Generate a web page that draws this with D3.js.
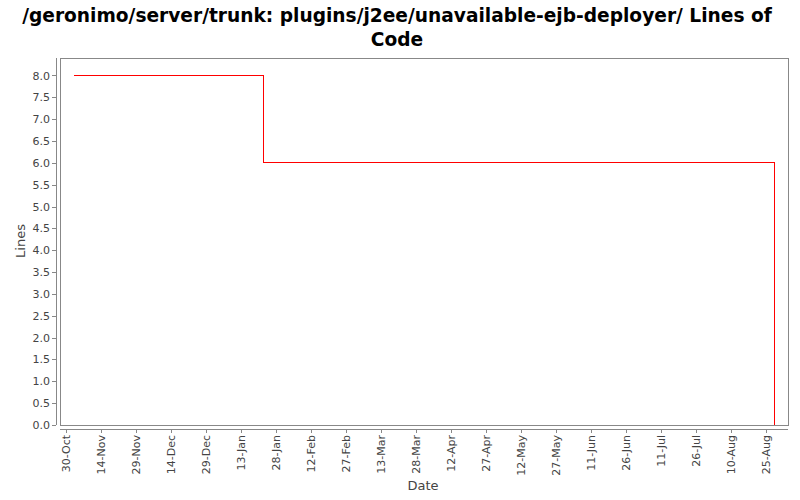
<!DOCTYPE html>
<html>
<head>
<meta charset="utf-8">
<script src="https://cdn.jsdelivr.net/npm/d3@7"></script>
<style>
  html, body { margin: 0; padding: 0; background: #fff; }
  svg { display: block; }
</style>
</head>
<body>
<svg id="chart" width="800" height="500"></svg>
<script>
// ---- data ----
const titleLines = ["/geronimo/server/trunk: plugins/j2ee/unavailable-ejb-deployer/ Lines of", "Code"];
const dates = ["2007-11-02T14:00:00Z", "2008-01-22T17:00:00Z", "2008-08-28T12:00:00Z"];
const linesOfCode = [8, 6, 0];
const xTickDates = ["2007-10-30", "2007-11-14", "2007-11-29", "2007-12-14", "2007-12-29", "2008-01-13",
  "2008-01-28", "2008-02-12", "2008-02-27", "2008-03-13", "2008-03-28", "2008-04-12", "2008-04-27",
  "2008-05-12", "2008-05-27", "2008-06-11", "2008-06-26", "2008-07-11", "2008-07-26", "2008-08-10", "2008-08-25"];
const xTickLabels = ["30-Oct", "14-Nov", "29-Nov", "14-Dec", "29-Dec", "13-Jan", "28-Jan", "12-Feb", "27-Feb",
  "13-Mar", "28-Mar", "12-Apr", "27-Apr", "12-May", "27-May", "11-Jun", "26-Jun", "11-Jul", "26-Jul", "10-Aug", "25-Aug"];
const yTicks = [0, 0.5, 1, 1.5, 2, 2.5, 3, 3.5, 4, 4.5, 5, 5.5, 6, 6.5, 7, 7.5, 8];
const yMax = 8.4;
const xLabel = "Date";
const yLabel = "Lines";

// ---- layout ----
const svg = d3.select("#chart");
const plot = { left: 60, top: 58, right: 788, bottom: 425 };
const font = "'DejaVu Sans', sans-serif";
const textColor = "#444";
const axisColor = "#888";

const parsed = dates.map(d => new Date(d));
const t0 = parsed[0].getTime(), t1 = parsed[parsed.length - 1].getTime();
const margin = (t1 - t0) * 0.02;
const x = d3.scaleUtc().domain([new Date(t0 - margin), new Date(t1 + margin)]).range([plot.left, plot.right]);
const y = d3.scaleLinear().domain([0, yMax]).range([plot.bottom, plot.top]);

// title
svg.append("g").selectAll("text").data(titleLines).join("text")
  .attr("x", 397).attr("y", (d, i) => 22 + i * 24)
  .attr("text-anchor", "middle")
  .attr("font-family", font).attr("font-weight", "bold").attr("font-size", 18.6)
  .attr("fill", "#000").text(d => d);

// plot background & border
svg.append("rect").attr("x", plot.left).attr("y", plot.top)
  .attr("width", plot.right - plot.left).attr("height", plot.bottom - plot.top)
  .attr("fill", "#fff").attr("stroke", axisColor).attr("stroke-width", 1)
  .attr("shape-rendering", "crispEdges");

// y axis
const yAxis = d3.axisLeft(y).tickValues(yTicks).tickFormat(d3.format(".1f")).tickSize(4).tickPadding(2);
const gy = svg.append("g").attr("transform", `translate(${plot.left - 4},0)`).call(yAxis);
gy.select(".domain").attr("stroke", axisColor).attr("d", `M0,${plot.top}V${plot.bottom}`);
gy.selectAll(".tick line").attr("stroke", axisColor);
gy.selectAll(".tick text").attr("font-family", font).attr("font-size", 11).attr("fill", textColor);
gy.attr("shape-rendering", "crispEdges");

// x axis
const xAxis = d3.axisBottom(x).tickValues(xTickDates.map(d => new Date(d + "T00:00:00Z")))
  .tickFormat((d, i) => xTickLabels[i]).tickSize(4).tickPadding(2);
const gx = svg.append("g").attr("transform", `translate(0,${plot.bottom + 4})`).call(xAxis);
gx.select(".domain").attr("stroke", axisColor).attr("d", `M${plot.left},0H${plot.right}`);
gx.selectAll(".tick line").attr("stroke", axisColor);
gx.selectAll(".tick text")
  .attr("font-family", font).attr("font-size", 11).attr("fill", textColor)
  .attr("text-anchor", "end")
  .attr("transform", "rotate(-90)")
  .attr("x", -6).attr("y", 0).attr("dy", "0.35em");
gx.attr("shape-rendering", "crispEdges");

// axis labels
svg.append("text").attr("x", 423).attr("y", 490).attr("text-anchor", "middle")
  .attr("font-family", font).attr("font-size", 13).attr("fill", textColor).text(xLabel);
svg.append("text").attr("transform", `translate(25,241) rotate(-90)`).attr("text-anchor", "middle")
  .attr("font-family", font).attr("font-size", 13).attr("fill", textColor).text(yLabel);

// line
const series = parsed.map((d, i) => ({ date: d, value: linesOfCode[i] }));
const line = d3.line().x(d => x(d.date)).y(d => y(d.value)).curve(d3.curveStepAfter);
svg.append("path").datum(series).attr("d", line)
  .attr("fill", "none").attr("stroke", "#ff0000").attr("stroke-width", 1)
  .attr("shape-rendering", "crispEdges");
</script>
</body>
</html>
